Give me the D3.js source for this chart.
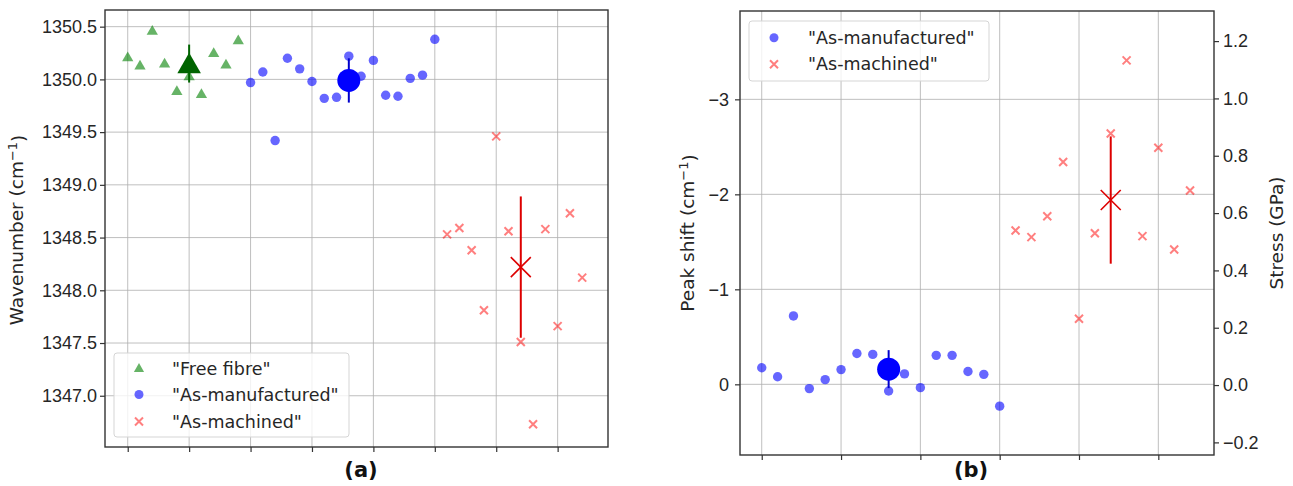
<!DOCTYPE html>
<html lang="en">
<head>
<meta charset="UTF-8">
<title>Raman peak positions</title>
<style>
    body{ margin:0; background:#fff; font-family:"DejaVu Sans", sans-serif; }
    svg{ display:block; }
    .grid line{ stroke:#b0b0b0; stroke-width:1; opacity:0.8; }
    .tick-lab{ font-size:18px; fill:#262626; }
    .ax-lab{ font-size:18.5px; fill:#262626; }
    .leg-txt{ font-size:17.5px; fill:#262626; }
    .panel-title{ font-size:21px; font-weight:bold; text-anchor:middle; fill:#111; }
</style>
<script src="https://d3js.org/d3.v7.min.js"></script>
</head>
<body>
<script>
    // ---- panel (a): wavenumber per measurement point ----
    var freeIdx = [0,1,2,3,4,5,6,7,8,9];
    var freeWave = [1350.21,1350.13,1350.46,1350.15,1349.89,1350.03,1349.86,1350.25,1350.14,1350.37];
    var manuIdx = [10,11,12,13,14,15,16,17,18,19,20,21,22,23,24,25];
    var manuWave = [1349.97,1350.07,1349.42,1350.20,1350.10,1349.98,1349.82,1349.83,1350.22,1350.03,
                    1350.18,1349.85,1349.84,1350.01,1350.04,1350.38];
    var machIdx = [26,27,28,29,30,31,32,33,34,35,36,37];
    var machWave = [1348.53,1348.59,1348.38,1347.81,1349.46,1348.56,1347.51,1346.73,1348.58,1347.66,1348.73,1348.12];
    // group means and std (big markers)
    var meanIdxA = [5, 18, 32];
    var meanWave = [1350.15, 1349.99, 1348.22];
    var sdWave = [0.18, 0.21, 0.67];
    var waveTicks = [1347.0, 1347.5, 1348.0, 1348.5, 1349.0, 1349.5, 1350.0, 1350.5];
    var xTicksA = [0,5,10,15,20,25,30,35];

    // ---- panel (b): peak shift vs free fibre ----
    var manuIdxB = [0,1,2,3,4,5,6,7,8,9,10,11,12,13,14,15];
    var manuShift = [-0.175,-0.08,-0.72,0.045,-0.05,-0.155,-0.325,-0.315,0.07,-0.11,0.035,-0.305,-0.305,-0.135,-0.105,0.23];
    var machIdxB = [16,17,18,19,20,21,22,23,24,25,26,27];
    var machShift = [-1.62,-1.55,-1.77,-2.34,-0.69,-1.59,-2.64,-3.41,-1.56,-2.49,-1.42,-2.04];
    var meanIdxB = [8, 22];
    var meanShift = [-0.16, -1.94];
    var sdShift = [0.2, 0.67];
    var shiftTicks = [-3, -2, -1, 0];
    var stressTicks = [-0.2, 0.0, 0.2, 0.4, 0.6, 0.8, 1.0, 1.2];
    var xTicksB = [0,5,10,15,20,25];

    var cGreen = "#008000", cBlue = "#0000ff", cRed = "#ff0000";
    var fmtMinus = function(s){ return String(s).replace("-", "\u2212"); };

    var svg = d3.select("body").append("svg").attr("width", 1293).attr("height", 486);

    // panel boxes
    var A = {l:105, r:608, t:10, b:447};
    var B = {l:740, r:1214, t:11, b:455};

    var xA = d3.scaleLinear().domain([-1.85, 39.1]).range([A.l, A.r]);
    var yA = d3.scaleLinear().domain([1346.514, 1350.658]).range([A.b, A.t]);
    var xB = d3.scaleLinear().domain([-1.37, 28.51]).range([B.l, B.r]);
    var yB = d3.scaleLinear().domain([0.744, -3.93]).range([B.b, B.t]);
    var yS = d3.scaleLinear().domain([-0.244, 1.305]).range([B.b, B.t]);

    function grid(box, xs, xt, ys, yt){
        var g = svg.append("g").attr("class", "grid");
        g.selectAll(".gx").data(xt).enter().append("line")
            .attr("x1", function(d){ return xs(d); }).attr("x2", function(d){ return xs(d); })
            .attr("y1", box.t).attr("y2", box.b);
        g.selectAll(".gy").data(yt).enter().append("line")
            .attr("y1", function(d){ return ys(d); }).attr("y2", function(d){ return ys(d); })
            .attr("x1", box.l).attr("x2", box.r);
    }
    grid(A, xA, xTicksA, yA, waveTicks);
    grid(B, xB, xTicksB, yB, shiftTicks);

    // markers
    function triangles(xs, ys, xi, yv, size, color, op){
        svg.append("g").selectAll("path").data(xi).enter().append("path")
            .attr("d", d3.symbol().type(d3.symbolTriangle).size(size))
            .attr("transform", function(d, i){ return "translate(" + xs(d) + "," + (ys(yv[i]) + size*0.012) + ")"; })
            .attr("fill", color).attr("fill-opacity", op);
    }
    function dots(xs, ys, xi, yv, r, color, op){
        svg.append("g").selectAll("circle").data(xi).enter().append("circle")
            .attr("cx", function(d){ return xs(d); })
            .attr("cy", function(d, i){ return ys(yv[i]); })
            .attr("r", r).attr("fill", color).attr("fill-opacity", op);
    }
    function crosses(xs, ys, xi, yv, h, sw, color, op){
        svg.append("g").selectAll("path").data(xi).enter().append("path")
            .attr("d", function(d, i){
                var x = xs(d), y = ys(yv[i]);
                return "M" + (x-h) + "," + (y-h) + "L" + (x+h) + "," + (y+h) +
                       "M" + (x-h) + "," + (y+h) + "L" + (x+h) + "," + (y-h);
            })
            .attr("stroke", color).attr("stroke-width", sw).attr("stroke-opacity", op).attr("fill", "none");
    }
    function errbar(xs, ys, x, m, s, color){
        svg.append("line")
            .attr("x1", xs(x)).attr("x2", xs(x))
            .attr("y1", ys(m - s)).attr("y2", ys(m + s))
            .attr("stroke", color).attr("stroke-width", 2);
    }

    // panel (a) points
    triangles(xA, yA, freeIdx, freeWave, 55, cGreen, 0.6);
    dots(xA, yA, manuIdx, manuWave, 4.7, cBlue, 0.6);
    crosses(xA, yA, machIdx, machWave, 4, 2, cRed, 0.5);
    errbar(xA, yA, meanIdxA[0], meanWave[0], sdWave[0], "#006400");
    triangles(xA, yA, [meanIdxA[0]], [meanWave[0]], 240, "#006400", 1);
    errbar(xA, yA, meanIdxA[1], meanWave[1], sdWave[1], "#0000cc");
    dots(xA, yA, [meanIdxA[1]], [meanWave[1]], 11.5, cBlue, 1);
    errbar(xA, yA, meanIdxA[2], meanWave[2], sdWave[2], "#dd0000");
    crosses(xA, yA, [meanIdxA[2]], [meanWave[2]], 10, 1.6, "#dd0000", 1);

    // panel (b) points
    dots(xB, yB, manuIdxB, manuShift, 4.7, cBlue, 0.6);
    crosses(xB, yB, machIdxB, machShift, 4, 2, cRed, 0.5);
    errbar(xB, yB, meanIdxB[0], meanShift[0], sdShift[0], "#0000cc");
    dots(xB, yB, [meanIdxB[0]], [meanShift[0]], 11.5, cBlue, 1);
    errbar(xB, yB, meanIdxB[1], meanShift[1], sdShift[1], "#dd0000");
    crosses(xB, yB, [meanIdxB[1]], [meanShift[1]], 10, 1.6, "#dd0000", 1);

    // frames + axes
    function frame(box){
        svg.append("rect").attr("x", box.l).attr("y", box.t)
            .attr("width", box.r - box.l).attr("height", box.b - box.t)
            .attr("fill", "none").attr("stroke", "#333").attr("stroke-width", 1.4);
    }
    frame(A); frame(B);

    function axis(gen, tx, ty){
        var g = svg.append("g").attr("transform", "translate(" + tx + "," + ty + ")").call(gen);
        g.select(".domain").remove();
        g.selectAll(".tick line").attr("stroke", "#333").attr("stroke-width", 1.2);
        g.selectAll(".tick text").attr("class", "tick-lab").attr("font-family", null).attr("font-size", null);
        return g;
    }
    axis(d3.axisBottom(xA).tickValues(xTicksA).tickSize(5).tickFormat(""), 0, A.b);
    axis(d3.axisLeft(yA).tickValues(waveTicks).tickSize(5).tickPadding(3).tickFormat(d3.format(".1f")), A.l, 0);
    axis(d3.axisBottom(xB).tickValues(xTicksB).tickSize(5).tickFormat(""), 0, B.b);
    axis(d3.axisLeft(yB).tickValues(shiftTicks).tickSize(5).tickPadding(6)
        .tickFormat(function(d){ return fmtMinus(d3.format("d")(d)); }), B.l, 0);
    axis(d3.axisRight(yS).tickValues(stressTicks).tickSize(5).tickPadding(4)
        .tickFormat(function(d){ return fmtMinus(d3.format(".1f")(d)); }), B.r, 0);

    // axis labels
    function vlabel(x, y, main){
        var t = svg.append("text").attr("class", "ax-lab").attr("text-anchor", "middle")
            .attr("transform", "translate(" + x + "," + y + ") rotate(-90)");
        t.append("tspan").text(main);
        if (main.indexOf("(cm") >= 0){
            t.append("tspan").attr("dy", "-0.45em").attr("font-size", "13px").text("\u22121");
            t.append("tspan").attr("dy", "0.45em").text(")");
        }
        return t;
    }
    vlabel(23, 230, "Wavenumber (cm");
    vlabel(694, 233, "Peak shift (cm");
    vlabel(1283, 233, "Stress (GPa)");

    svg.append("text").attr("class", "panel-title").attr("x", 361).attr("y", 477).text("(a)");
    svg.append("text").attr("class", "panel-title").attr("x", 971).attr("y", 477).text("(b)");

    // legends
    function legend(x0, y0, w, h, mx, tx, rows){
        var g = svg.append("g");
        g.append("rect").attr("x", x0).attr("y", y0).attr("width", w).attr("height", h)
            .attr("rx", 3).attr("fill", "#fff").attr("fill-opacity", 0.8)
            .attr("stroke", "#d5d5d5").attr("stroke-width", 1);
        rows.forEach(function(r){
            if (r.kind === "tri"){
                g.append("path").attr("d", d3.symbol().type(d3.symbolTriangle).size(45))
                    .attr("transform", "translate(" + mx + "," + (r.y + 0.5) + ")")
                    .attr("fill", cGreen).attr("fill-opacity", 0.6);
            } else if (r.kind === "dot"){
                g.append("circle").attr("cx", mx).attr("cy", r.y).attr("r", 4.5)
                    .attr("fill", cBlue).attr("fill-opacity", 0.6);
            } else {
                g.append("path").attr("d", "M" + (mx-4) + "," + (r.y-4) + "L" + (mx+4) + "," + (r.y+4) +
                    "M" + (mx-4) + "," + (r.y+4) + "L" + (mx+4) + "," + (r.y-4))
                    .attr("stroke", cRed).attr("stroke-opacity", 0.5).attr("stroke-width", 2);
            }
            g.append("text").attr("class", "leg-txt").attr("x", tx).attr("y", r.y)
                .attr("dy", "0.35em").text(r.label);
        });
    }
    legend(114, 353, 235, 84, 139, 172, [
        {kind:"tri", label:"\"Free fibre\"", y:368.5},
        {kind:"dot", label:"\"As-manufactured\"", y:394.5},
        {kind:"x", label:"\"As-machined\"", y:421.5}
    ]);
    legend(749, 21, 240, 60, 774, 808, [
        {kind:"dot", label:"\"As-manufactured\"", y:37.7},
        {kind:"x", label:"\"As-machined\"", y:64.3}
    ]);
</script>
</body>
</html>
